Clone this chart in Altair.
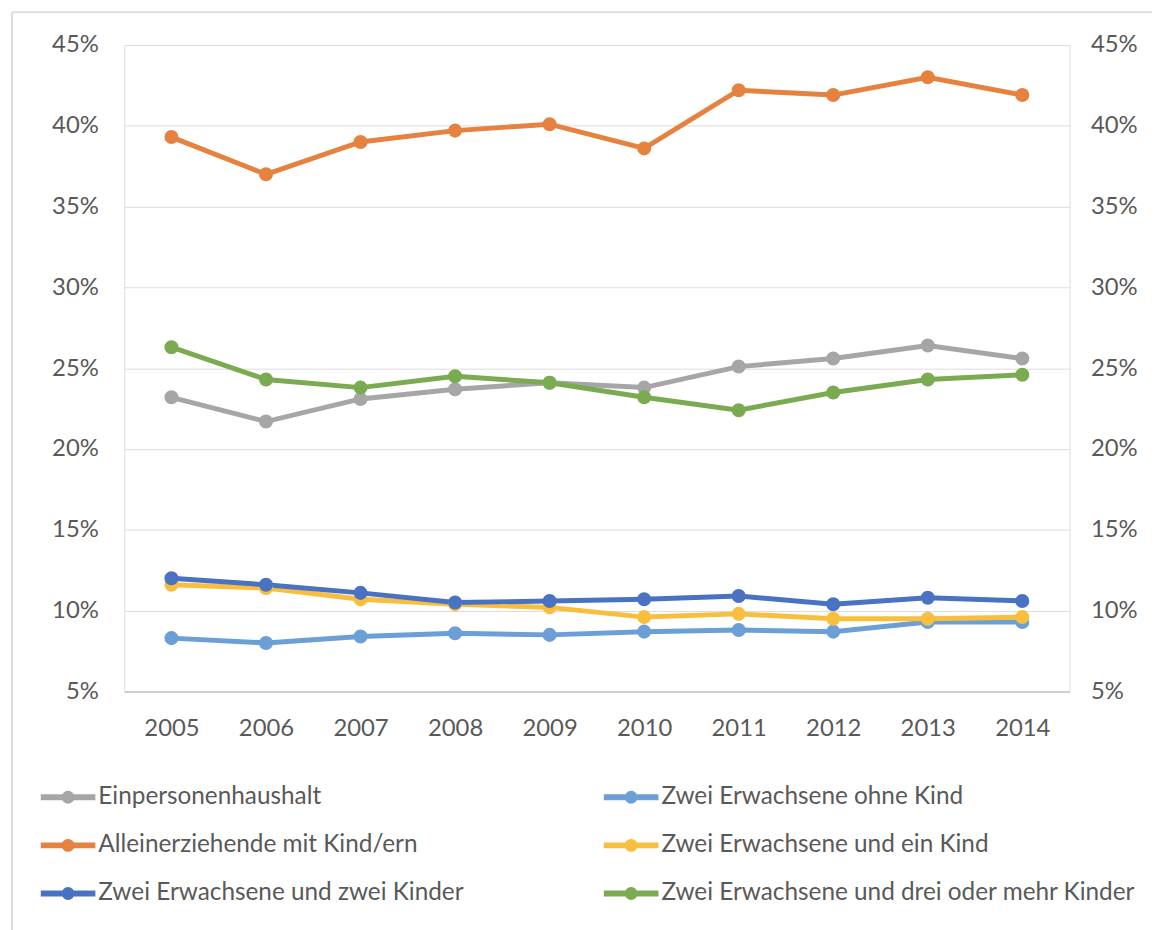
import altair as alt
import pandas as pd

years = ["2005", "2006", "2007", "2008", "2009", "2010", "2011", "2012", "2013", "2014"]

series_names = [
    "Einpersonenhaushalt",
    "Zwei Erwachsene ohne Kind",
    "Alleinerziehende mit Kind/ern",
    "Zwei Erwachsene und ein Kind",
    "Zwei Erwachsene und zwei Kinder",
    "Zwei Erwachsene und drei oder mehr Kinder",
]

einpersonen = [23.2, 21.7, 23.1, 23.7, 24.1, 23.8, 25.1, 25.6, 26.4, 25.6]
ohne_kind = [8.3, 8.0, 8.4, 8.6, 8.5, 8.7, 8.8, 8.7, 9.3, 9.3]
alleinerziehende = [39.3, 37.0, 39.0, 39.7, 40.1, 38.6, 42.2, 41.9, 43.0, 41.9]
ein_kind = [11.6, 11.4, 10.7, 10.4, 10.2, 9.6, 9.8, 9.5, 9.5, 9.6]
zwei_kinder = [12.0, 11.6, 11.1, 10.5, 10.6, 10.7, 10.9, 10.4, 10.8, 10.6]
drei_kinder = [26.3, 24.3, 23.8, 24.5, 24.1, 23.2, 22.4, 23.5, 24.3, 24.6]

colors = ["#A6A6A6", "#6B9FD6", "#E6823F", "#F8BF3E", "#4A72C2", "#7AAB50"]

y_ticks = [5, 10, 15, 20, 25, 30, 35, 40, 45]

all_values = [einpersonen, ohne_kind, alleinerziehende, ein_kind, zwei_kinder, drei_kinder]
rows = []
for order, (name, vals) in enumerate(zip(series_names, all_values)):
    for yr, v in zip(years, vals):
        rows.append({"Jahr": yr, "Wert": v, "Haushalt": name, "order": order})
df = pd.DataFrame(rows)

FONT = "Lato"
TXT = "#595959"

# legend glyph: horizontal line with a dot in the middle (stroked path)
legend_path = ("M-1,0L1,0M0.127,0A0.127,0.127,0,1,1,-0.127,0"
               "A0.127,0.127,0,1,1,0.127,0Z")

x_enc = alt.X("Jahr:O", scale=alt.Scale(type="point", padding=0.5),
              axis=alt.Axis(title=None, labelAngle=0, ticks=False, grid=False,
                            domainColor="#CFCFCF", domainWidth=2,
                            labelFontSize=24, labelColor=TXT, labelFont=FONT,
                            labelPadding=25))

color_enc = alt.Color(
    "Haushalt:N",
    scale=alt.Scale(domain=series_names, range=colors),
    legend=alt.Legend(
        title=None, orient="none", legendX=-87, legendY=727, columns=2,
        direction="horizontal",
        symbolType=legend_path, symbolSize=3025, symbolStrokeWidth=6,
        symbolOpacity=1,
        labelFontSize=24.5, labelColor=TXT, labelFont=FONT, labelOffset=0,
        labelLimit=800, columnPadding=129, rowPadding=2.5, padding=0,
    ),
)

lines = alt.Chart(df).mark_line(
    strokeWidth=5,
    point=alt.OverlayMarkDef(size=200, filled=True, opacity=1),
).encode(
    x=x_enc,
    y=alt.Y("Wert:Q", scale=alt.Scale(domain=[5, 45], nice=False, zero=False),
            axis=alt.Axis(title=None, values=y_ticks, orient="left", domain=False,
                          ticks=False, grid=True, gridColor="#DDDDDD", gridWidth=1,
                          labelExpr="datum.value + '%'", labelFontSize=24,
                          labelColor=TXT, labelFont=FONT, labelPadding=26)),
    color=color_enc,
    order=alt.Order("order:Q"),
)

right = alt.Chart(df).mark_line(opacity=0).encode(
    x=alt.X("Jahr:O", scale=alt.Scale(type="point", padding=0.5)),
    y=alt.Y("Wert:Q", scale=alt.Scale(domain=[5, 45], nice=False, zero=False),
            axis=alt.Axis(title=None, values=y_ticks, orient="right", domain=False,
                          ticks=False, grid=False,
                          labelExpr="datum.value + '%'", labelFontSize=24,
                          labelColor=TXT, labelFont=FONT, labelPadding=21)),
    detail="Haushalt:N",
)

frame = pd.DataFrame({"k": [0]})
border_top = alt.Chart(frame).mark_rule(color="#DDDDDD", strokeWidth=2).encode(
    x=alt.value(-113), x2=alt.value(1040), y=alt.value(-33))
border_left = alt.Chart(frame).mark_rule(color="#DDDDDD", strokeWidth=2).encode(
    x=alt.value(-113), y=alt.value(-33), y2=alt.value(900))

chart = alt.layer(border_top, border_left, lines, right).resolve_scale(
    y="independent"
).properties(
    width=952, height=651,
    autosize=alt.AutoSizeParams(type="none"),
    padding={"left": 117, "top": 34, "right": 83, "bottom": 237},
).configure_view(stroke=None).configure(background="white")

chart.save("out.html", embed_options={"renderer": "svg", "actions": False})
